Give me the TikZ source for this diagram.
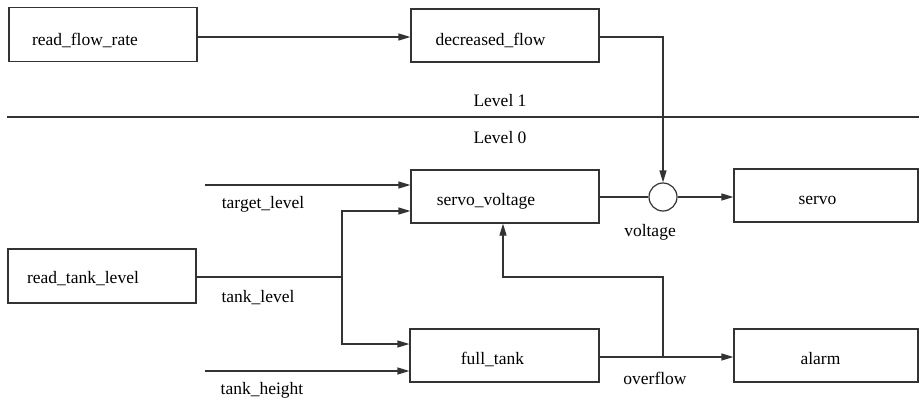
\documentclass[tikz,border=0pt]{standalone}
\usepackage{fontspec}
\setmainfont{Liberation Serif}
\usetikzlibrary{arrows.meta}
\begin{document}
\begin{tikzpicture}[x=1pt,y=-1pt,
  line width=1.2pt, draw=black!80,
  box/.style={draw=black!80, line width=1.2pt, rectangle, inner sep=0pt},
  lbl/.style={font=\fontsize{17.5}{20}\selectfont, inner sep=0pt, text=black},
  arr/.style={-{Triangle[length=12pt,width=7pt]}},
  junc/.style={draw=black!80, line width=1.2pt, circle, minimum size=28pt, inner sep=0pt}]
\useasboundingbox (0,0) rectangle (919,402);
% boxes
\node[box, minimum width=188pt, minimum height=54pt] (rfr) at (103,34.5) {};
\node[box, minimum width=188pt, minimum height=53pt] (df) at (505,35.5) {};
\node[box, minimum width=188pt, minimum height=53pt] (sv) at (505,196.5) {};
\node[box, minimum width=184pt, minimum height=53pt] (servo) at (826,195.5) {};
\node[box, minimum width=188pt, minimum height=54pt] (rtl) at (102,276) {};
\node[box, minimum width=189pt, minimum height=53pt] (ft) at (504.5,355.5) {};
\node[box, minimum width=184pt, minimum height=53pt] (alarm) at (826,355.5) {};
\node[junc] (c) at (663,197) {};
% box texts
\node[lbl] (rfrT) at (85,40) {read\_flow\_rate};
\node[lbl] (dfT) at (490.5,40) {decreased\_flow};
\node[lbl] (svT) at (486,201) {servo\_voltage};
\node[lbl] (servoT) at (817.5,200) {servo};
\node[lbl] (rtlT) at (83,279) {read\_tank\_level};
\node[lbl] (ftT) at (492.5,359) {full\_tank};
\node[lbl] (alarmT) at (820.5,359) {alarm};
% level separator
\coordinate (l0) at (7,117);
\coordinate (l1) at (919,117);
\draw (l0) -- (l1);
\node[lbl] (lev1) at (500,101) {Level 1};
\node[lbl] (lev0) at (500,138) {Level 0};
% connectors
\draw[arr] (rfr.east |- 0,37) -- (df.west |- 0,37);
\coordinate (j1) at (663,37);
\draw[arr] (df.east |- j1) -- (j1) -- (c.north);
\draw (sv.east |- c) -- (c.west);
\draw[arr] (c.east) -- (servo.west |- c);
\node[lbl] (voltL) at (650,232) {voltage};
\coordinate (tl) at (205,185);
\draw[arr] (tl) -- (sv.west |- tl);
\node[lbl] (tlL) at (263,204) {target\_level};
\coordinate (br) at (342,277);
\draw (rtl.east |- br) -- (br);
\draw[arr] (br) |- (sv.west |- 0,211);
\draw[arr] (br) |- (ft.west |- 0,344);
\node[lbl] (tkL) at (258,298) {tank\_level};
\coordinate (th) at (205,371);
\draw[arr] (th) -- (ft.west |- th);
\node[lbl] (thL) at (262,390) {tank\_height};
\draw[arr] (ft.east |- 0,357) -- (alarm.west |- 0,357);
\coordinate (of) at (663,357);
\coordinate (ofk) at (503,277);
\draw[arr] (of) |- (ofk) -- (sv.south -| ofk);
\node[lbl] (ofL) at (655,378) {overflow};
\end{tikzpicture}
\end{document}
